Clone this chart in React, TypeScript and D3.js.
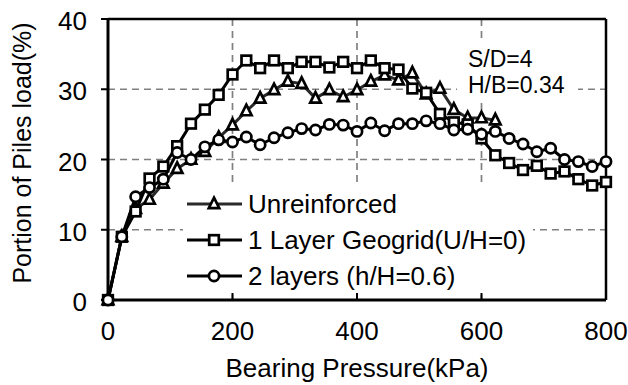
import React from "react";
import * as d3 from "d3";

const pressure = [0, 22.2, 44.4, 66.7, 88.9, 111.1, 133.3, 155.6, 177.8, 200, 222.2, 244.4, 266.7, 288.9, 311.1, 333.3, 355.6, 377.8, 400, 422.2, 444.4, 466.7, 488.9, 511.1, 533.3, 555.6, 577.8, 600, 622.2, 644.4, 666.7, 688.9, 711.1, 733.3, 755.6, 777.8, 800];
const unreinforced = [0, 9.0, 13.0, 14.3, 16.6, 18.7, 20.0, 21.1, 23.1, 24.9, 26.9, 28.7, 29.9, 31.1, 30.8, 28.7, 29.9, 28.9, 29.9, 31.1, 32.0, 31.3, 32.3, 29.3, 30.1, 27.1, 25.9, 25.9, 25.6];
const geogrid1 = [0, 9.0, 12.6, 17.3, 19.0, 21.9, 25.1, 27.1, 29.2, 32.1, 34.1, 33.0, 34.1, 33.0, 33.9, 33.9, 33.1, 33.9, 33.0, 34.1, 33.0, 32.8, 30.1, 29.5, 26.5, 25.3, 25.0, 23.0, 20.6, 19.5, 18.5, 19.1, 18.0, 18.3, 17.2, 16.3, 16.8];
const layers2 = [0, 9.0, 14.7, 16.0, 17.2, 21.0, 20.0, 21.8, 22.8, 22.5, 23.2, 22.1, 23.1, 23.8, 24.4, 24.2, 25.0, 24.9, 24.0, 25.2, 24.1, 25.1, 25.1, 25.5, 25.1, 24.2, 24.3, 23.6, 24.0, 23.0, 22.2, 21.1, 21.6, 20.0, 19.7, 19.0, 19.7];

const seriesNames = ["Unreinforced", "1 Layer Geogrid(U/H=0)", "2 layers (h/H=0.6)"];
const seriesShapes = ["triangle", "square", "circle"];
const xTicks = [0, 200, 400, 600, 800];
const yTicks = [0, 10, 20, 30, 40];
const xGrid = [200, 400, 600];
const yGrid = [10, 20, 30];
const notes = ["S/D=4", "H/B=0.34"];
const xTitle = "Bearing Pressure(kPa)";
const yTitle = "Portion of Piles load(%)";

const FONT = "'Liberation Sans', Arial, sans-serif";

function Marker({ shape, x, y }: { shape: string; x: number; y: number }) {
  const sw = 2.7;
  if (shape === "square") {
    return <rect x={x - 4.8} y={y - 4.8} width={9.6} height={9.6} fill="#fff" stroke="#000" strokeWidth={sw} />;
  }
  if (shape === "circle") {
    return <circle cx={x} cy={y} r={5.1} fill="#fff" stroke="#000" strokeWidth={sw} />;
  }
  const h = 10.5;
  const w = 10.5;
  const p = `M${x},${y - h * 0.6} L${x + w / 2},${y + h * 0.4} L${x - w / 2},${y + h * 0.4} Z`;
  return <path d={p} fill="#fff" stroke="#000" strokeWidth={sw} strokeLinejoin="miter" />;
}

export default function App() {
  const x = d3.scaleLinear().domain([0, 800]).range([108, 606]);
  const y = d3.scaleLinear().domain([0, 40]).range([300, 19]);

  const seriesData = [unreinforced, geogrid1, layers2].map((vals) =>
    vals.map((v, i) => [pressure[i], v] as [number, number])
  );
  const line = d3
    .line<[number, number]>()
    .x((d) => x(d[0]))
    .y((d) => y(d[1]));

  const lineColors = ["#2a2a2a", "#000", "#000"];

  return (
    <svg
      width={628}
      height={385}
      style={{ position: "absolute", left: 0, top: 0, background: "#fff" }}
      fontFamily={FONT}
    >
      <rect x={0} y={0} width={628} height={385} fill="#fff" />
      {/* gridlines */}
      {yGrid.map((t) => (
        <line key={"gy" + t} x1={x(0)} x2={x(800)} y1={y(t)} y2={y(t)} stroke="#808080" strokeWidth={1.7} strokeDasharray="7,5" />
      ))}
      {xGrid.map((t) => (
        <line key={"gx" + t} x1={x(t)} x2={x(t)} y1={y(40)} y2={y(0)} stroke="#808080" strokeWidth={1.7} strokeDasharray="7,5" />
      ))}
      {/* annotation background */}
      <rect x={457} y={42} width={121} height={58} fill="#fff" />
      {notes.map((n, i) => (
        <text key={n} x={468} y={67 + i * 26} fontSize={23} fill="#000">
          {n}
        </text>
      ))}
      {/* legend */}
      <rect x={183} y={185} width={350} height={110} fill="#fff" />
      {seriesNames.map((name, i) => {
        const ly = 204 + i * 36;
        return (
          <g key={name}>
            <line x1={187} x2={242} y1={ly} y2={ly} stroke={lineColors[i]} strokeWidth={3} />
            <Marker shape={seriesShapes[i]} x={214} y={ly} />
            <text x={248} y={ly + 9} fontSize={26} fill="#000">
              {name}
            </text>
          </g>
        );
      })}
      {/* frame */}
      <line x1={x(0)} x2={x(800)} y1={y(40)} y2={y(40)} stroke="#000" strokeWidth={2.5} />
      <line x1={x(800)} x2={x(800)} y1={y(40)} y2={y(0)} stroke="#000" strokeWidth={2.5} />
      <line x1={x(0)} x2={x(800)} y1={y(0)} y2={y(0)} stroke="#000" strokeWidth={3} />
      <line x1={x(0)} x2={x(0)} y1={y(40)} y2={y(0)} stroke="#000" strokeWidth={3} />
      {/* ticks */}
      {yTicks.map((t) => (
        <g key={"yt" + t}>
          <line x1={x(0) - 7} x2={x(0)} y1={y(t)} y2={y(t)} stroke="#000" strokeWidth={2} />
          <text x={87} y={y(t) + 11} fontSize={26} textAnchor="end" fill="#000">
            {t}
          </text>
        </g>
      ))}
      {xTicks.map((t) => (
        <g key={"xt" + t}>
          <line x1={x(t)} x2={x(t)} y1={y(0)} y2={y(0) - 7} stroke="#000" strokeWidth={2} />
          <text x={x(t)} y={340} fontSize={26} textAnchor="middle" fill="#000">
            {t}
          </text>
        </g>
      ))}
      {/* axis titles */}
      <text x={357} y={377} fontSize={26} textAnchor="middle" fill="#000">
        {xTitle}
      </text>
      <text transform={`translate(31,153) rotate(-90)`} fontSize={25} textAnchor="middle" fill="#000">
        {yTitle}
      </text>
      {/* series */}
      {seriesData.map((data, si) => (
        <g key={"s" + si}>
          <path d={line(data) || ""} fill="none" stroke={lineColors[si]} strokeWidth={3} strokeLinejoin="round" />
        </g>
      ))}
      {seriesData.map((data, si) => (
        <g key={"m" + si}>
          {data.map((d, i) => (
            <Marker key={i} shape={seriesShapes[si]} x={x(d[0])} y={y(d[1])} />
          ))}
        </g>
      ))}
    </svg>
  );
}
